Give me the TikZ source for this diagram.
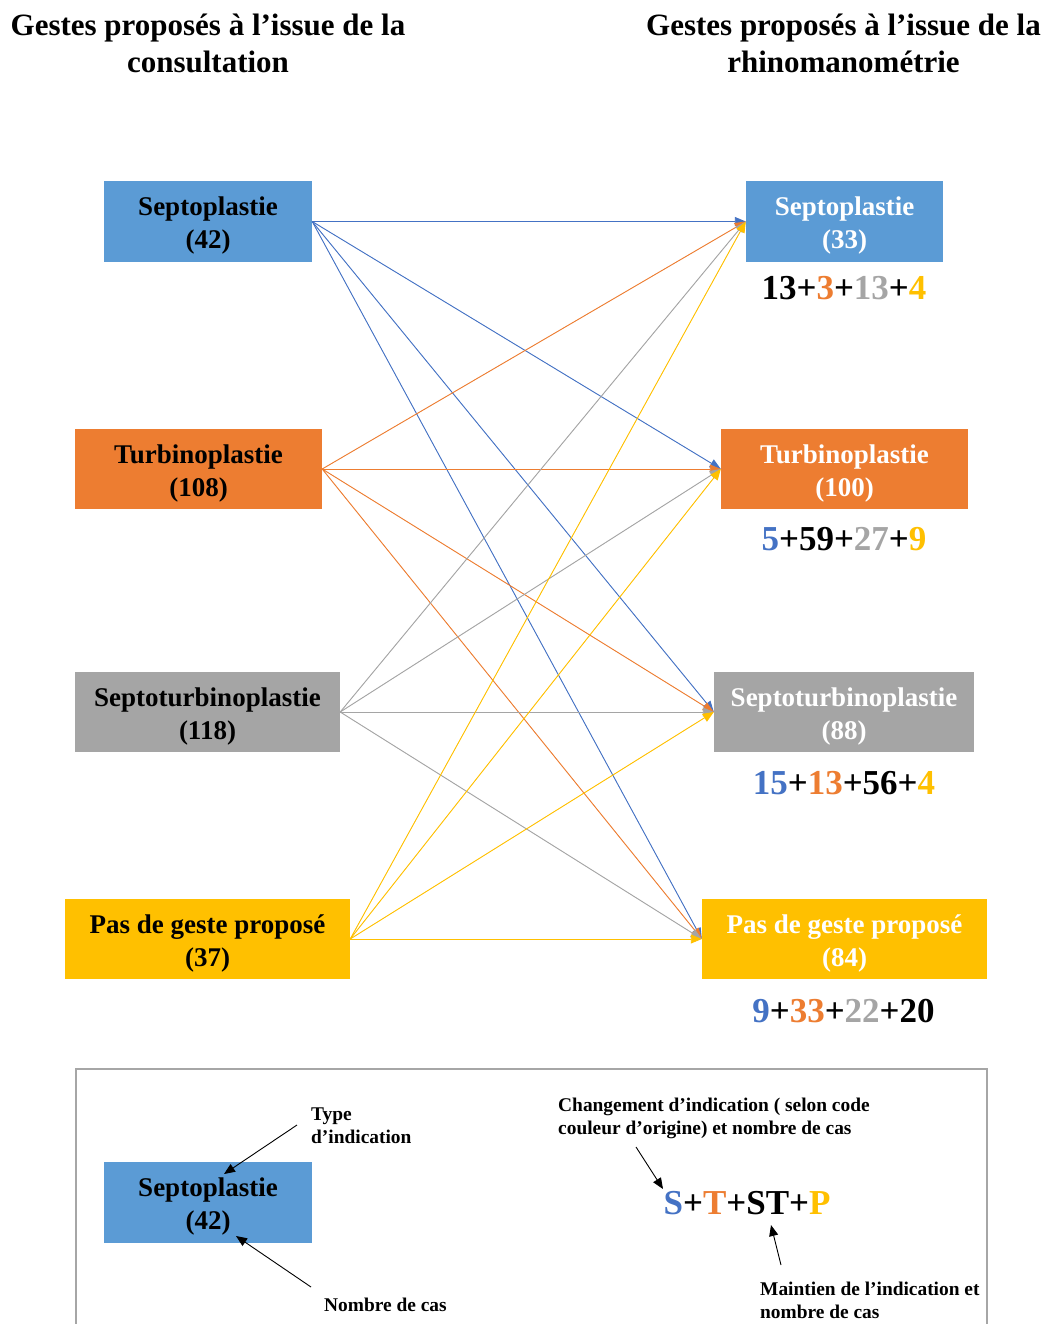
\documentclass[tikz,border=0pt]{standalone}
\usepackage{fontspec}
\setmainfont{Liberation Serif}
\usetikzlibrary{arrows.meta}
\definecolor{cblue}{HTML}{5B9BD5}
\definecolor{lblue}{HTML}{4472C4}
\definecolor{corange}{HTML}{ED7D31}
\definecolor{cgray}{HTML}{A5A5A5}
\definecolor{cgold}{HTML}{FFC000}
\definecolor{frame}{HTML}{A6A6A6}
\newcommand{\upstrut}{\rule{0pt}{27pt}}
\tikzset{
  box/.style={inner sep=0pt, minimum height=80pt, align=center, font=\bfseries\fontsize{27}{33}\selectfont},
  title/.style={align=center, font=\bfseries\fontsize{31}{37}\selectfont},
  nums/.style={font=\bfseries\fontsize{35}{40}\selectfont},
  legtext/.style={align=left, inner sep=0pt, font=\bfseries\fontsize{19.4}{23}\selectfont},
  conn/.style={line width=0.9pt, -{Triangle[length=11pt,width=9pt]}},
  legarrow/.style={line width=0.9pt, black, -{Triangle[length=11pt,width=9pt]}}
}
\begin{document}
\begin{tikzpicture}[x=1pt,y=-1pt]
\useasboundingbox (0,0) rectangle (1050,1324);
\fill[white] (0,0) rectangle (1050,1324);
% titles
\node[title] (t1) at (208,43) {Gestes proposés à l’issue de la\\consultation};
\node[title] (t2) at (843.5,43) {Gestes proposés à l’issue de la\\rhinomanométrie};
% left boxes
\node[box, fill=cblue, minimum width=208pt, minimum height=81pt] (L1) at (208,221.5) {\upstrut Septoplastie\\(42)};
\node[box, fill=corange, minimum width=247pt] (L2) at (198.5,469) {\upstrut Turbinoplastie\\(108)};
\node[box, fill=cgray, minimum width=265pt] (L3) at (207.5,712) {\upstrut Septoturbinoplastie\\(118)};
\node[box, fill=cgold, minimum width=285pt] (L4) at (207.5,939) {\upstrut Pas de geste proposé\\(37)};
% right boxes
\node[box, fill=cblue, text=white, minimum width=197pt, minimum height=81pt] (R1) at (844.5,221.5) {\upstrut Septoplastie\\(33)};
\node[box, fill=corange, text=white, minimum width=247pt] (R2) at (844.5,469) {\upstrut Turbinoplastie\\(100)};
\node[box, fill=cgray, text=white, minimum width=260pt] (R3) at (844,712) {\upstrut Septoturbinoplastie\\(88)};
\node[box, fill=cgold, text=white, minimum width=285pt] (R4) at (844.5,939) {\upstrut Pas de geste proposé\\(84)};
% numbers
\node[nums] (n1) at (844,288) {13+\textcolor{corange}{3}+\textcolor{cgray}{13}+\textcolor{cgold}{4}};
\node[nums] (n2) at (844,539) {\textcolor{lblue}{5}+59+\textcolor{cgray}{27}+\textcolor{cgold}{9}};
\node[nums] (n3) at (844,783) {\textcolor{lblue}{15}+\textcolor{corange}{13}+56+\textcolor{cgold}{4}};
\node[nums] (n4) at (843.5,1011) {\textcolor{lblue}{9}+\textcolor{corange}{33}+\textcolor{cgray}{22}+20};
% connectors
\foreach \s/\c in {L1/lblue, L2/corange, L3/cgray, L4/cgold}{
  \foreach \t in {R1,R2,R3,R4}{
    \draw[conn, draw=\c, fill=\c] (\s.east) -- (\t.west);
  }
}
% legend frame
\draw[frame, line width=2pt] (76,1330) -- (76,1069) -- (987,1069) -- (987,1330);
\node[box, fill=cblue, minimum width=208pt, minimum height=81pt] (G1) at (208,1202.5) {\upstrut Septoplastie\\(42)};
\node[legtext, anchor=west] (lt1) at (311,1126) {Type\\d’indication};
\node[legtext, anchor=west] (lt2) at (324,1305) {Nombre de cas};
\coordinate (a1s) at (297,1125);
\coordinate (a1e) at (224,1174);
\coordinate (a2s) at (311,1287);
\coordinate (a2e) at (236,1236);
\draw[legarrow] (a1s) -- (a1e);
\draw[legarrow] (a2s) -- (a2e);
\node[legtext, anchor=west] (lt3) at (558,1118) {Changement d’indication ( selon code\\couleur d’origine) et nombre de cas};
\node[nums] (code) at (747,1203) {\textcolor{lblue}{S}+\textcolor{corange}{T}+ST+\textcolor{cgold}{P}};
\node[legtext, anchor=west] (lt4) at (760,1300) {Maintien de l’indication et\\nombre de cas};
\coordinate (a3s) at (636,1147);
\coordinate (a3e) at (663,1189);
\coordinate (a4s) at (781,1265);
\coordinate (a4e) at (771,1225);
\draw[legarrow] (a3s) -- (a3e);
\draw[legarrow] (a4s) -- (a4e);
\end{tikzpicture}
\end{document}
